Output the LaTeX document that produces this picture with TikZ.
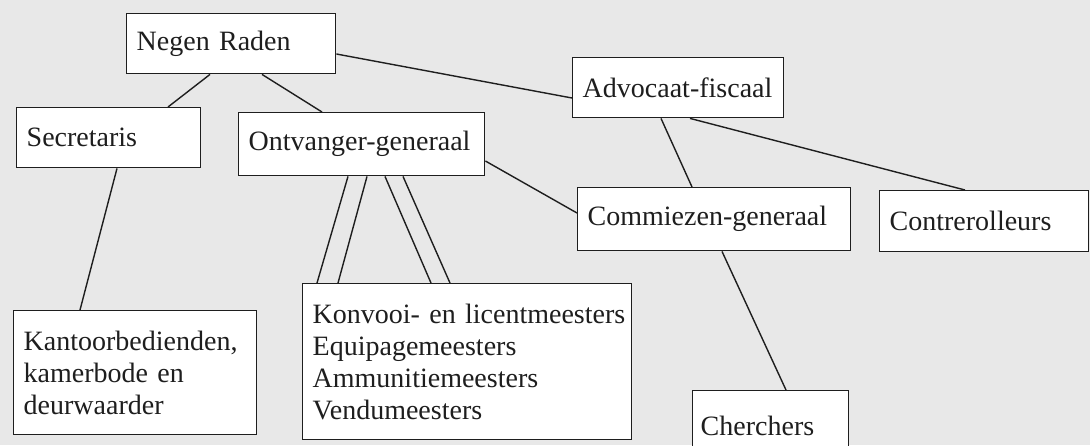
\documentclass[tikz,border=0pt]{standalone}
\usepackage{fontspec}
\setmainfont{Liberation Serif}
\definecolor{pagebg}{RGB}{232,232,232}
\definecolor{ink}{RGB}{30,30,30}
\begin{document}
\begin{tikzpicture}[x=1pt,y=-1pt,
  box/.style={draw=ink, fill=white, line width=1.4pt, anchor=north west, align=left,
    inner xsep=10pt, inner ysep=0pt, text=ink, font=\fontsize{28}{32}\selectfont},
  link/.style={draw=ink, line width=1.4pt}]
\fill[pagebg] (0,0) rectangle (1090,445);
\useasboundingbox (0,0) rectangle (1090,445);
\clip (0,0) rectangle (1090,445);

\node[box, minimum width=209pt, minimum height=60pt, text width=189pt] (nr) at (126,13) {Negen Raden};
\node[box, minimum width=184pt, minimum height=60pt, text width=164pt] (sec) at (16,107) {Secretaris};
\node[box, minimum width=246pt, minimum height=63pt, text width=226pt] (ont) at (238,112) {Ontvanger-generaal};
\node[box, minimum width=211pt, minimum height=60pt, text width=191pt] (adv) at (572,57) {Advocaat-fiscaal};
\node[box, minimum width=273pt, minimum height=63pt, text width=253pt] (com) at (577,187) {Commiezen-generaal};
\node[box, minimum width=209pt, minimum height=61pt, text width=189pt] (con) at (879,190) {Contrerolleurs};
\node[box, minimum width=243pt, minimum height=124pt, text width=223pt] (kan) at (13,310) {Kantoorbedienden,\\kamerbode en\\deurwaarder};
\node[box, minimum width=329pt, minimum height=156pt, text width=309pt] (kon) at (302,283) {\mbox{Konvooi- en licentmeesters}\\Equipagemeesters\\Ammunitiemeesters\\Vendumeesters};
\node[box, minimum width=156pt, minimum height=70pt, text width=140pt, inner xsep=8pt] (che) at (692,390) {Cherchers};

\draw[link] ([xshift=84pt]nr.south west) -- ([xshift=152pt]sec.north west);
\draw[link] ([xshift=136pt]nr.south west) -- ([xshift=84pt]ont.north west);
\draw[link] ([yshift=-41pt]nr.north east) -- ([yshift=-41pt]adv.north west);
\draw[link] ([xshift=101pt]sec.south west) -- ([xshift=67pt]kan.north west);
\draw[link] ([xshift=110pt]ont.south west) -- ([xshift=15pt]kon.north west);
\draw[link] ([xshift=129pt]ont.south west) -- ([xshift=36pt]kon.north west);
\draw[link] ([xshift=147pt]ont.south west) -- ([xshift=129pt]kon.north west);
\draw[link] ([xshift=165pt]ont.south west) -- ([xshift=148pt]kon.north west);
\draw[link] ([yshift=-49pt]ont.north east) -- ([yshift=-26pt]com.north west);
\draw[link] ([xshift=89pt]adv.south west) -- ([xshift=115pt]com.north west);
\draw[link] ([xshift=118pt]adv.south west) -- ([xshift=86pt]con.north west);
\draw[link] ([xshift=145pt]com.south west) -- ([xshift=94pt]che.north west);
\end{tikzpicture}
\end{document}
